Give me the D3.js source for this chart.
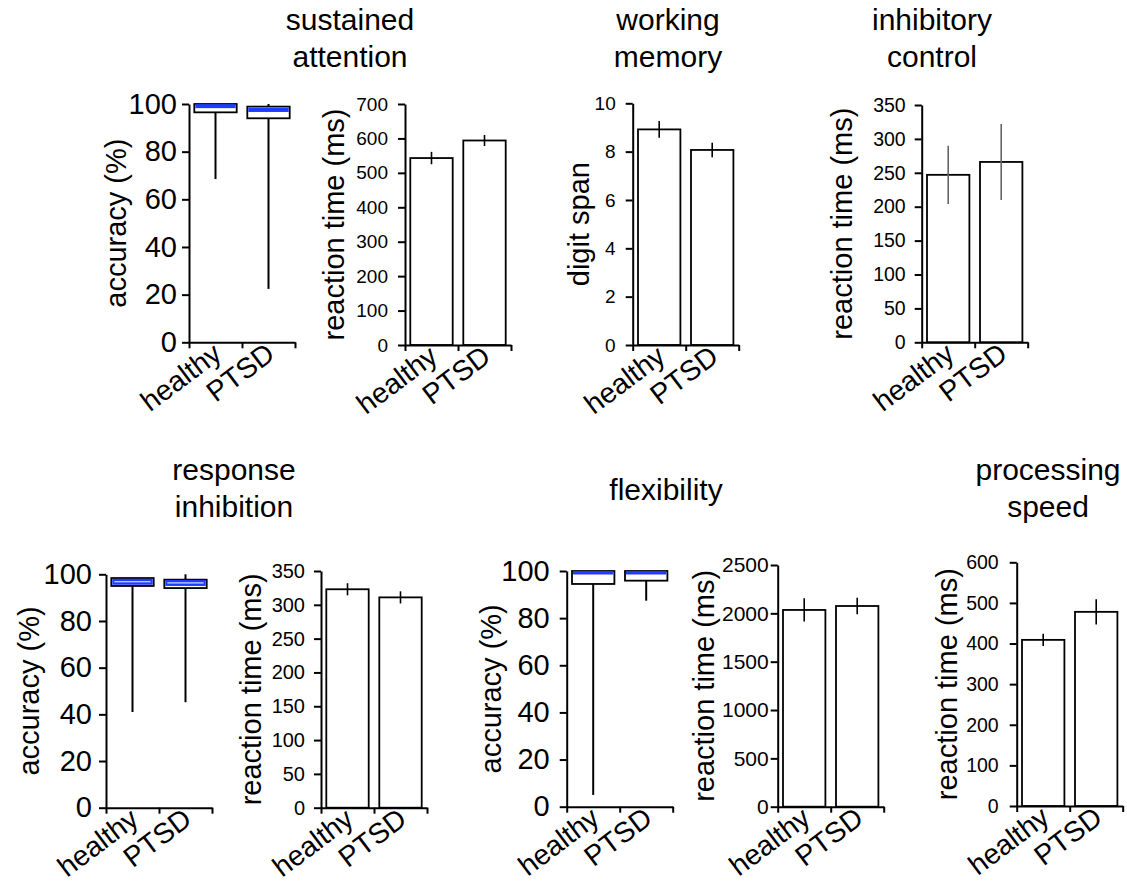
<!DOCTYPE html>
<html><head><meta charset="utf-8">
<script src="https://cdn.jsdelivr.net/npm/d3@7"></script>
<style>
body{margin:0;background:#fff}
svg{display:block}
text{font-family:"Liberation Sans",Arial,Helvetica,sans-serif;fill:#000}
</style>
</head><body>
<svg id="chart" width="1127" height="882"></svg>
<script>
// ---------- data ----------
const groups = ["healthy", "PTSD"];

// sustained attention – accuracy (box plot)
const saAccMin = [68.5, 22.4];
const saAccQ1  = [96.5, 94.0];
const saAccMed = [99.1, 97.5];
const saAccQ3  = [100, 98.9];
const saAccMax = [100, 100];
// sustained attention – reaction time (ms)
const saRT    = [543, 594];
const saRTErr = [18, 16];

// working memory – digit span
const wmSpan    = [8.92, 8.07];
const wmSpanErr = [0.35, 0.30];

// inhibitory control – reaction time (ms)
const icRT    = [247, 266];
const icRTErr = [43, 56];

// response inhibition – accuracy (box plot)
const riAccMin = [41, 45.2];
const riAccQ1  = [95.0, 94.1];
const riAccMed = [96.8, 96.3];
const riAccQ3  = [98.4, 97.7];
const riAccMax = [98.4, 100];
// response inhibition – reaction time (ms)
const riRT    = [323, 311];
const riRTErr = [9, 9];

// flexibility – accuracy (box plot)
const flAccMin = [5, 87.4];
const flAccQ1  = [94.5, 95.9];
const flAccMed = [99.3, 99.3];
const flAccQ3  = [100, 100];
const flAccMax = [100, 100];
// flexibility – reaction time (ms)
const flRT    = [2035, 2076];
const flRTErr = [120, 86];

// processing speed – reaction time (ms)
const psRT    = [409, 478];
const psRTErr = [15, 31];

// tick values
const accTicks  = [0, 20, 40, 60, 80, 100];
const rt700     = [0, 100, 200, 300, 400, 500, 600, 700];
const spanTicks = [0, 2, 4, 6, 8, 10];
const rt350     = [0, 50, 100, 150, 200, 250, 300, 350];
const rt2500    = [0, 500, 1000, 1500, 2000, 2500];
const rt600     = [0, 100, 200, 300, 400, 500, 600];

// titles
const titles = [
  {lines: ["sustained", "attention"], x: 350, y: 30},
  {lines: ["working", "memory"], x: 668, y: 30},
  {lines: ["inhibitory", "control"], x: 932, y: 30},
  {lines: ["response", "inhibition"], x: 234, y: 480},
  {lines: ["flexibility"], x: 666, y: 500},
  {lines: ["processing", "speed"], x: 1048, y: 480}
];

// ---------- layout ----------
const BLUE = "#1e3cff";
const svg = d3.select("#chart");

const panels = [
  {type:"box", x0:189,   y0:104,   y1:342.3, max:100,  ticks:accTicks,  tf:29, pad:5,  label:"accuracy (%)", lx:116.7,
   data:{min:saAccMin,q1:saAccQ1,med:saAccMed,q3:saAccQ3,max:saAccMax}, medH:4, white:false},
  {type:"bar", x0:405,   y0:104,   y1:345,   max:700,  ticks:rt700,     tf:19, pad:10, label:"reaction time (ms)", lx:335,
   vals:saRT, err:saRTErr, errColor:"#000"},
  {type:"bar", x0:632.7, y0:103.3, y1:345,   max:10,   ticks:spanTicks, tf:19, pad:10, label:"digit span", lx:580,
   vals:wmSpan, err:wmSpanErr, errColor:"#000"},
  {type:"bar", x0:921.7, y0:105,   y1:342.3, max:350,  ticks:rt350,     tf:19.5, pad:9, label:"reaction time (ms)", lx:843,
   vals:icRT, err:icRTErr, errColor:"#666"},
  {type:"box", x0:106,   y0:574.3, y1:807.7, max:100,  ticks:accTicks,  tf:29, pad:7,  label:"accuracy (%)", lx:30,
   data:{min:riAccMin,q1:riAccQ1,med:riAccMed,q3:riAccQ3,max:riAccMax}, medH:6, white:true},
  {type:"bar", x0:321,   y0:571,   y1:807.7, max:350,  ticks:rt350,     tf:20, pad:9,  label:"reaction time (ms)", lx:252,
   vals:riRT, err:riRTErr, errColor:"#000"},
  {type:"box", x0:566.7, y0:571,   y1:806.7, max:100,  ticks:accTicks,  tf:29, pad:10, label:"accuracy (%)", lx:492,
   data:{min:flAccMin,q1:flAccQ1,med:flAccMed,q3:flAccQ3,max:flAccMax}, medH:3.5, white:false},
  {type:"bar", x0:777.7, y0:565,   y1:806.7, max:2500, ticks:rt2500,    tf:21, pad:2,  label:"reaction time (ms)", lx:705,
   vals:flRT, err:flRTErr, errColor:"#000"},
  {type:"bar", x0:1016.7,y0:562.3, y1:806,   max:600,  ticks:rt600,     tf:19.5, pad:11, label:"reaction time (ms)", lx:948,
   vals:psRT, err:psRTErr, errColor:"#000"}
];

const AXW = 106;

panels.forEach(p => {
  const g = svg.append("g");
  const x = d3.scaleBand().domain(groups).range([p.x0, p.x0 + AXW]).paddingInner(0.2).paddingOuter(0.1);
  const y = d3.scaleLinear().domain([0, p.max]).range([p.y1, p.y0]);

  // marks
  if (p.type === "bar") {
    groups.forEach((k, i) => {
      g.append("rect")
        .attr("x", x(k)).attr("width", x.bandwidth())
        .attr("y", y(p.vals[i])).attr("height", y(0) - y(p.vals[i]))
        .attr("fill", "#fff").attr("stroke", "#000").attr("stroke-width", 1.8);
      const cx = x(k) + x.bandwidth() / 2;
      g.append("line")
        .attr("x1", cx).attr("x2", cx)
        .attr("y1", y(p.vals[i] - p.err[i])).attr("y2", y(p.vals[i] + p.err[i]))
        .attr("stroke", p.errColor).attr("stroke-width", 1.6);
    });
  } else {
    const d = p.data;
    groups.forEach((k, i) => {
      const cx = x(k) + x.bandwidth() / 2;
      // whiskers
      g.append("line").attr("x1", cx).attr("x2", cx)
        .attr("y1", y(d.min[i])).attr("y2", y(d.q1[i]))
        .attr("stroke", "#000").attr("stroke-width", 2);
      if (d.max[i] > d.q3[i]) {
        g.append("line").attr("x1", cx).attr("x2", cx)
          .attr("y1", y(d.q3[i])).attr("y2", y(d.max[i]))
          .attr("stroke", "#000").attr("stroke-width", 2);
      }
      // box
      g.append("rect")
        .attr("x", x(k)).attr("width", x.bandwidth())
        .attr("y", y(d.q3[i])).attr("height", y(d.q1[i]) - y(d.q3[i]))
        .attr("fill", "#fff").attr("stroke", "#000").attr("stroke-width", 1.8);
      // median band
      const my = y(d.med[i]);
      const top = Math.max(my - p.medH / 2, y(d.q3[i]));
      const bot = Math.min(top + p.medH, y(d.q1[i]));
      g.append("rect")
        .attr("x", x(k) + 1).attr("width", x.bandwidth() - 2)
        .attr("y", top).attr("height", bot - top)
        .attr("fill", BLUE);
      if (p.white) {
        g.append("line")
          .attr("x1", x(k) + 3).attr("x2", x(k) + x.bandwidth() - 3)
          .attr("y1", my).attr("y2", my)
          .attr("stroke", "#fff").attr("stroke-width", 1);
      }
    });
  }

  // y axis
  const ya = g.append("g").attr("transform", `translate(${p.x0},0)`)
    .call(d3.axisLeft(y).tickValues(p.ticks).tickSize(7).tickSizeOuter(0).tickPadding(p.pad).tickFormat(d3.format("d")));
  ya.select(".domain").attr("stroke", "#000").attr("stroke-width", 2);
  ya.selectAll(".tick line").attr("stroke", "#000").attr("stroke-width", 2);
  ya.selectAll(".tick text").attr("font-size", p.tf).attr("fill", "#000")
    .attr("font-family", '"Liberation Sans",Arial,sans-serif');

  // x axis with boundary ticks
  const xb = d3.scaleLinear().domain([0, 2]).range([p.x0, p.x0 + AXW]);
  const xa = g.append("g").attr("transform", `translate(0,${p.y1})`)
    .call(d3.axisBottom(xb).tickValues([0, 1, 2]).tickSize(6).tickSizeOuter(0).tickFormat(""));
  xa.select(".domain").attr("stroke", "#000").attr("stroke-width", 2);
  xa.selectAll(".tick line").attr("stroke", "#000").attr("stroke-width", 2);

  // category labels
  groups.forEach(k => {
    const cx = x(k) + x.bandwidth() / 2;
    g.append("text")
      .attr("transform", `translate(${cx + 8},${p.y1 + 15}) rotate(-37)`)
      .attr("text-anchor", "end")
      .attr("font-size", 28.5)
      .text(k);
  });

  // y label
  g.append("text")
    .attr("transform", `translate(${p.lx + 9},${(p.y0 + p.y1) / 2}) rotate(-90)`)
    .attr("text-anchor", "middle")
    .attr("font-size", 29)
    .text(p.label);
});

// titles
titles.forEach(t => {
  t.lines.forEach((line, i) => {
    svg.append("text")
      .attr("x", t.x).attr("y", t.y + i * 37)
      .attr("text-anchor", "middle")
      .attr("font-size", 30)
      .text(line);
  });
});
</script>
</body></html>
